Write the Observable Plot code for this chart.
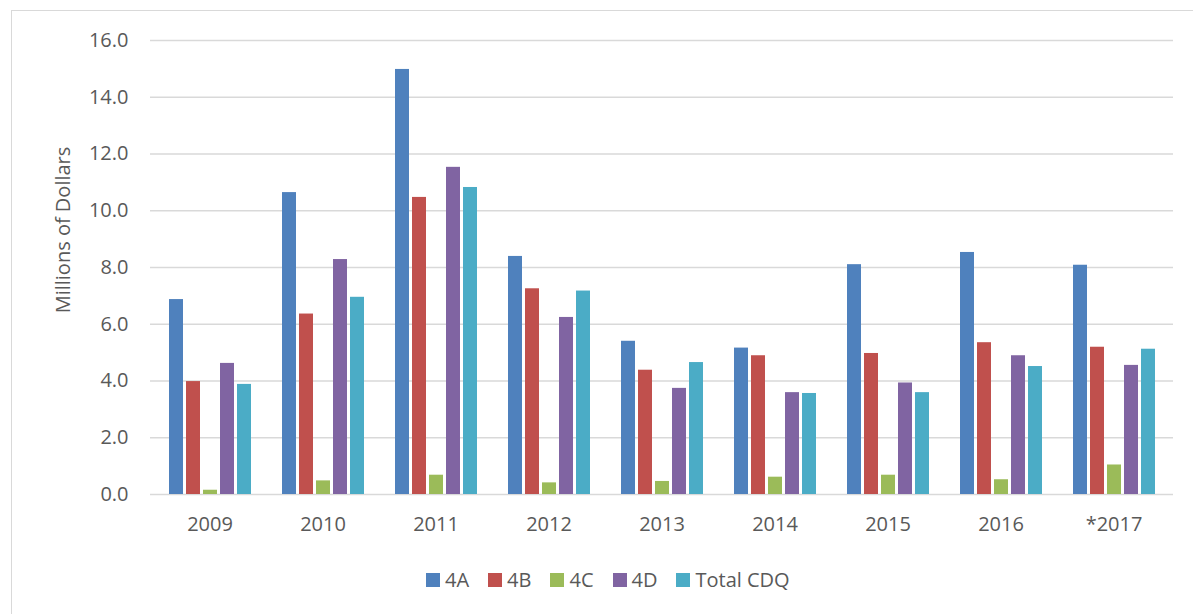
<!DOCTYPE html>
<html>
<head>
<meta charset="utf-8">
<script src="https://cdn.jsdelivr.net/npm/d3@7"></script>
<script src="https://cdn.jsdelivr.net/npm/@observablehq/plot@0.6"></script>
<style>
  html, body { margin: 0; padding: 0; background: #fff; }
  #wrap { position: relative; width: 1193px; height: 614px; overflow: hidden; background: #fff;
          font-family: "Open Sans", sans-serif; color: #595959; }
  #frame { position: absolute; left: 11px; top: 10px; width: 1300px; height: 700px;
           border-left: 1.5px solid #d9d9d9; border-top: 1.5px solid #d9d9d9; }
  .layer { position: absolute; left: 0; top: 0; }
  #ylabel { position: absolute; left: 62px; top: 230px; transform: translate(-50%, -50%) rotate(-90deg);
            font-size: 20px; white-space: nowrap; }
  #legend { position: absolute; left: 426px; top: 566px; display: flex; gap: 19px; font-size: 20px; }
  .item { display: flex; align-items: center; gap: 5px; }
  .sw { width: 14px; height: 14px; display: inline-block; }
</style>
</head>
<body>
<div id="wrap">
  <div id="frame"></div>
  <div id="grid" class="layer"></div>
  <div id="chart" class="layer"></div>
  <div id="ylabel">Millions of Dollars</div>
  <div id="legend"></div>
</div>
<script>
const years = ["2009", "2010", "2011", "2012", "2013", "2014", "2015", "2016", "*2017"];
const series = ["4A", "4B", "4C", "4D", "Total CDQ"];
const colors = ["#4f81bd", "#c0504d", "#9bbb59", "#8064a2", "#4bacc6"];
const v4A    = [6.87, 10.64, 14.98, 8.39, 5.40, 5.16, 8.10, 8.53, 8.08];
const v4B    = [3.98, 6.36, 10.47, 7.25, 4.38, 4.89, 4.97, 5.35, 5.19];
const v4C    = [0.15, 0.48, 0.68, 0.41, 0.46, 0.61, 0.68, 0.52, 1.04];
const v4D    = [4.62, 8.28, 11.53, 6.24, 3.74, 3.59, 3.93, 4.89, 4.55];
const vTotal = [3.88, 6.95, 10.82, 7.17, 4.65, 3.56, 3.59, 4.51, 5.12];
const yTicks = [0, 2, 4, 6, 8, 10, 12, 14, 16];

const valuesBySeries = [v4A, v4B, v4C, v4D, vTotal];
const data = [];
years.forEach((yr, i) => {
  series.forEach((s, j) => data.push({year: yr, series: s, value: valuesBySeries[j][i]}));
});

const common = {
  width: 1193,
  height: 614,
  marginLeft: 150,
  marginRight: 20,
  marginTop: 40,
  marginBottom: 120,
  style: {fontFamily: "Open Sans, sans-serif", fontSize: "20px", color: "#595959", background: "transparent", overflow: "visible"}
};
const yScale = {domain: [0, 16], ticks: yTicks, tickFormat: d => d.toFixed(1), tickSize: 0, tickPadding: 22, label: null};

// Background layer: gridlines and y axis across the whole frame
const gridPlot = Plot.plot({
  ...common,
  y: yScale,
  marks: [
    Plot.ruleY(yTicks, {stroke: "#d9d9d9", strokeWidth: 1.3})
  ]
});
document.getElementById("grid").appendChild(gridPlot);

// Foreground layer: grouped bars
const barPlot = Plot.plot({
  ...common,
  fx: {domain: years, paddingInner: 0.267, paddingOuter: 0.134, axis: "bottom", tickSize: 0, tickPadding: 22, label: null},
  x: {domain: series, paddingInner: 0.2, paddingOuter: 0, axis: null},
  y: {...yScale, axis: null},
  color: {domain: series, range: colors},
  marks: [
    Plot.barY(data, {fx: "year", x: "series", y: "value", fill: "series"})
  ]
});
document.getElementById("chart").appendChild(barPlot);

const legend = document.getElementById("legend");
series.forEach((s, j) => {
  const it = document.createElement("div");
  it.className = "item";
  const sw = document.createElement("span");
  sw.className = "sw";
  sw.style.background = colors[j];
  const t = document.createElement("span");
  t.textContent = s;
  it.appendChild(sw);
  it.appendChild(t);
  legend.appendChild(it);
});
</script>
</body>
</html>
